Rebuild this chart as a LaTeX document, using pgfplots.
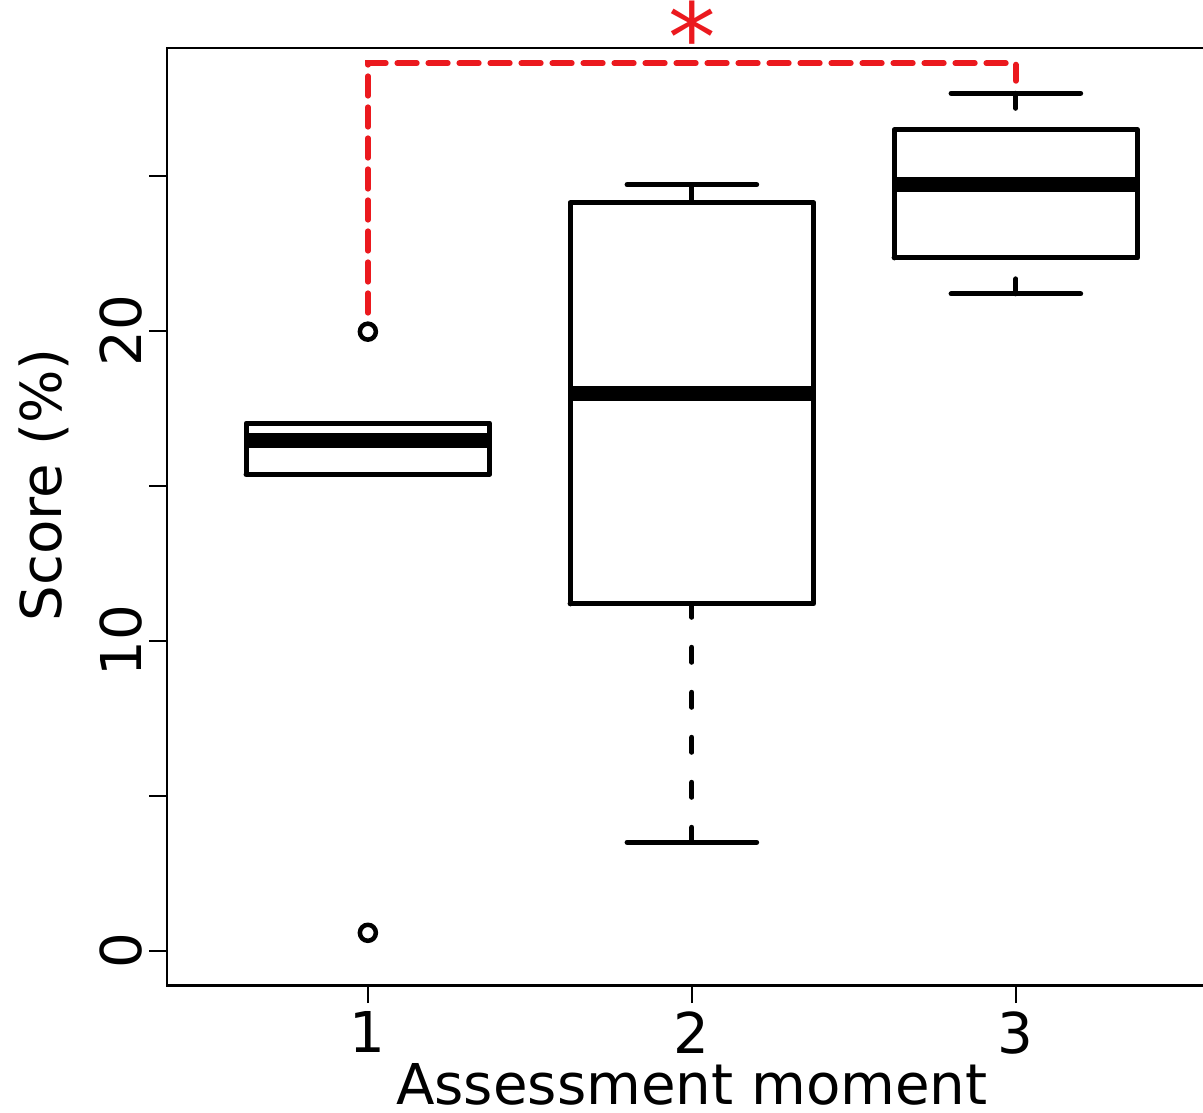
\documentclass[border=0pt]{standalone}
\usepackage{pgfplots}
\pgfplotsset{compat=1.18}
\usepackage{fontspec}
\setmainfont{DejaVu Sans}
\definecolor{sigred}{RGB}{235,25,30}
\begin{document}
\begin{tikzpicture}
\begin{axis}[
  at={(0,0)}, anchor=south west,
  scale only axis, width=209.95pt, height=187.5pt,
  xmin=0.38, xmax=3.62, ymin=-1.12, ymax=29.12,
  clip=false,
  axis line style={line width=0.45pt},
  tick style={line width=0.45pt, black},
  major tick length=3.5pt,
  tick align=outside,
  xtick pos=bottom, ytick pos=left,
  xtick={1,2,3},
  ytick={0,5,10,15,20,25},
  yticklabels={0,,10,,20,},
  /pgf/number format/assume math mode=true,
  ticklabel style={font=\fontsize{11.25}{13}\selectfont},
  xticklabel style={anchor=north, inner sep=1.5pt},
  yticklabel style={rotate=90, anchor=south, inner sep=1.3pt},
  label style={font=\fontsize{11.25}{13}\selectfont},
  xlabel={Assessment moment},
  xlabel style={at={(axis description cs:0.5,-0.1273)}, anchor=base, inner sep=0pt},
  ylabel={Score (\%)},
  ylabel style={at={(axis description cs:-0.1176,0.534)}, anchor=center, inner sep=0pt},
  boxline/.style={black, line width=1pt, line cap=round, line join=round},
  medline/.style={black, line width=3pt, line cap=butt},
  whisk/.style={black, line width=1pt, line cap=round, dash pattern=on 3pt off 6pt},
  staple/.style={black, line width=1pt, line cap=round},
  sig/.style={sigred, line width=1.15pt, line cap=round, dash pattern=on 3.9pt off 2.3pt},
]
% group 1
\addplot[staple] coordinates {(0.8,17.02) (1.2,17.02)};
\addplot[staple] coordinates {(0.8,15.37) (1.2,15.37)};
\addplot[boxline] coordinates {(0.624,15.37) (1.376,15.37) (1.376,17.02) (0.624,17.02) (0.624,15.37)};
\addplot[medline] coordinates {(0.624,16.45) (1.376,16.45)};
\addplot[only marks, mark=o, mark size=1.6pt, mark options={black, line width=0.9pt}] coordinates {(1,19.97) (1,0.58)};
% group 2
\addplot[whisk] coordinates {(2,24.71) (2,24.13)};
\addplot[whisk] coordinates {(2,3.50) (2,11.19)};
\addplot[staple] coordinates {(1.8,24.71) (2.2,24.71)};
\addplot[staple] coordinates {(1.8,3.50) (2.2,3.50)};
\addplot[boxline] coordinates {(1.624,11.19) (2.376,11.19) (2.376,24.13) (1.624,24.13) (1.624,11.19)};
\addplot[medline] coordinates {(1.624,17.97) (2.376,17.97)};
% group 3
\addplot[whisk] coordinates {(3,27.66) (3,26.48)};
\addplot[whisk] coordinates {(3,21.19) (3,22.35)};
\addplot[staple] coordinates {(2.8,27.66) (3.2,27.66)};
\addplot[staple] coordinates {(2.8,21.19) (3.2,21.19)};
\addplot[boxline] coordinates {(2.624,22.35) (3.376,22.35) (3.376,26.48) (2.624,26.48) (2.624,22.35)};
\addplot[medline] coordinates {(2.624,24.71) (3.376,24.71)};
% significance bracket
\addplot[sig] coordinates {(1,20.58) (1,28.63) (3,28.63) (3,28.06)};
\node[text=sigred, font=\fontsize{19}{19}\selectfont, anchor=base, inner sep=0pt] at (axis cs:2,28.36) {*};
\end{axis}
\pgfresetboundingbox
\useasboundingbox (-33.4pt,-25.3pt) rectangle (207.2pt,197.1pt);
\end{tikzpicture}
\end{document}
